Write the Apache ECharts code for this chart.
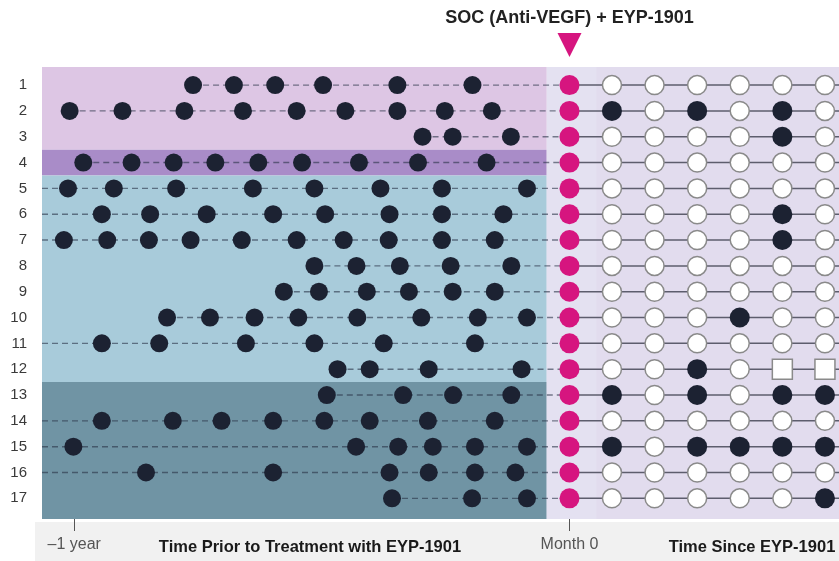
<!DOCTYPE html>
<html>
<head>
<meta charset="utf-8">
<script src="https://cdn.jsdelivr.net/npm/echarts@6/dist/echarts.min.js"></script>
<style>
  html, body { margin: 0; padding: 0; background: #fff; }
  #chart { width: 839px; height: 561px; }
</style>
</head>
<body>
<div id="chart"></div>
<script>
// ---------------- DATA ----------------
// Patient rows (top to bottom)
const rowLabels = ['1','2','3','4','5','6','7','8','9','10','11','12','13','14','15','16','17'];

// Anti-VEGF injections before EYP-1901 (months relative to Month 0)
const preInjections = [
  [-9.12, -8.13, -7.13, -5.97, -4.17, -2.35],
  [-12.11, -10.83, -9.33, -7.91, -6.61, -5.43, -4.17, -3.02, -1.88],
  [-3.56, -2.83, -1.42],
  [-11.78, -10.61, -9.59, -8.58, -7.54, -6.48, -5.10, -3.67, -2.01],
  [-12.15, -11.04, -9.53, -7.67, -6.18, -4.58, -3.09, -1.03],
  [-11.33, -10.16, -8.79, -7.18, -5.92, -4.36, -3.09, -1.60],
  [-12.25, -11.20, -10.19, -9.18, -7.94, -6.61, -5.47, -4.38, -3.09, -1.81],
  [-6.18, -5.16, -4.11, -2.88, -1.41],
  [-6.92, -6.07, -4.91, -3.89, -2.83, -1.81],
  [-9.75, -8.71, -7.63, -6.57, -5.14, -3.59, -2.22, -1.03],
  [-11.33, -9.94, -7.84, -6.18, -4.50, -2.29],
  [-5.62, -4.84, -3.41, -1.16],
  [-5.88, -4.03, -2.82, -1.41],
  [-11.33, -9.61, -8.43, -7.18, -5.94, -4.84, -3.43, -1.81],
  [-12.02, -5.17, -4.15, -3.31, -2.29, -1.03],
  [-10.26, -7.18, -4.36, -3.41, -2.29, -1.31],
  [-4.30, -2.36, -1.03]
];

// Rows whose injection history continues before the window shown
const historyBefore = [false, false, false, false, true, true, true, false, false, false, true, false, false, true, true, true, false];

// Visits after EYP-1901 (Month 0 = treatment)
const postVisits = [1, 2, 3, 4, 5, 6];
// Status per visit: F = supplemental injection (filled), O = no injection (open), S = square marker
const postStatus = [
  'OOOOOO', 'FOFOFO', 'OOOOFO', 'OOOOOO', 'OOOOOO', 'OOOOFO', 'OOOOFO', 'OOOOOO', 'OOOOOO',
  'OOOFOO', 'OOOOOO', 'OOFOSS', 'FOFOFF', 'OOOOOO', 'FOFFFF', 'OOOOOO', 'OOOOOF'
];

// Row groups (first row, last row)
const groupRows = [[1, 3], [4, 4], [5, 12], [13, 17]];

// Tick labels on the time axis
const xTickValues = [-12, 0];
const xTickLabels = ['\u20131 year', 'Month 0'];

// Text
const titleText = 'SOC (Anti-VEGF) + EYP-1901';
const preAxisTitle = 'Time Prior to Treatment with EYP-1901';
const postAxisTitle = 'Time Since EYP-1901';

// ---------------- LAYOUT / STYLE ----------------
const FONT = "'Liberation Sans', Arial, sans-serif";
const Y_MIN = 0.3, Y_MAX = 17.8;
const X0_MIN = -12.78, X0_MAX = 6.53;   // months axis
const X1_MIN = -12.38, X1_MAX = 6.33;   // visits axis
const PRE_END = -0.55;
const STRIP_END = 0.65;
const groupColors = ['#ddc6e4', '#a98cc8', '#a8cbda', '#7094a4'];
const postBg = '#e2dcee';
const stripBg = '#e4e1f1';
const dotColor = '#1c2232';
const magenta = '#d6157f';

const markAreaData = groupRows.map((g, i) => [
  { xAxis: X0_MIN, yAxis: i === 0 ? Y_MIN : g[0] - 0.5, itemStyle: { color: groupColors[i] } },
  { xAxis: PRE_END, yAxis: i === groupRows.length - 1 ? Y_MAX : g[1] + 0.5 }
]);
markAreaData.push([
  { xAxis: PRE_END, yAxis: Y_MIN, itemStyle: { color: postBg } },
  { xAxis: X0_MAX, yAxis: Y_MAX }
]);
markAreaData.push([
  { xAxis: PRE_END, yAxis: Y_MIN, itemStyle: { color: stripBg } },
  { xAxis: STRIP_END, yAxis: Y_MAX }
]);

const series = [];
series.push({
  type: 'line', xAxisIndex: 0, yAxisIndex: 0, data: [], silent: true,
  markArea: { silent: true, data: markAreaData, label: { show: false } }
});

// dashed pre-treatment lines
rowLabels.forEach((lab, i) => {
  const row = i + 1;
  const pts = [];
  if (historyBefore[i]) pts.push([X0_MIN, row]);
  preInjections[i].forEach(v => pts.push([v, row]));
  pts.push([0, row]);
  series.push({
    type: 'line', xAxisIndex: 0, yAxisIndex: 0, data: pts, symbol: 'none', silent: true, z: 3,
    lineStyle: { color: 'rgba(40,50,70,0.6)', width: 1.4, type: [6, 4] }
  });
});

// solid post-treatment lines
rowLabels.forEach((lab, i) => {
  const row = i + 1;
  const pts = [[0, row]];
  postVisits.forEach(v => pts.push([v, row]));
  pts.push([X1_MAX, row]);
  series.push({
    type: 'line', xAxisIndex: 1, yAxisIndex: 0, data: pts, symbol: 'none', silent: true, z: 3,
    lineStyle: { color: '#5d5d6d', width: 1.5 }
  });
});

// pre-treatment injections
const preDots = [];
preInjections.forEach((arr, i) => arr.forEach(v => preDots.push([v, i + 1])));
series.push({
  type: 'scatter', xAxisIndex: 0, yAxisIndex: 0, data: preDots, symbolSize: 18, z: 5,
  itemStyle: { color: dotColor, opacity: 1 }
});

// Month 0 (EYP-1901)
series.push({
  type: 'scatter', xAxisIndex: 0, yAxisIndex: 0,
  data: rowLabels.map((l, i) => [0, i + 1]), symbolSize: 20, z: 5,
  itemStyle: { color: magenta, opacity: 1 }
});

// post-treatment visits
const postFilled = [], postOpen = [], postSquare = [];
postStatus.forEach((s, i) => {
  postVisits.forEach((v, j) => {
    const c = s[j];
    if (c === 'F') postFilled.push([v, i + 1]);
    else if (c === 'S') postSquare.push([v, i + 1]);
    else postOpen.push([v, i + 1]);
  });
});
series.push({
  type: 'scatter', xAxisIndex: 1, yAxisIndex: 0, data: postOpen, symbolSize: 19, z: 5,
  itemStyle: { color: '#ffffff', borderColor: '#8a8a8a', borderWidth: 1.5, opacity: 1 }
});
series.push({
  type: 'scatter', xAxisIndex: 1, yAxisIndex: 0, data: postFilled, symbolSize: 20, z: 5,
  itemStyle: { color: dotColor, opacity: 1 }
});
series.push({
  type: 'scatter', xAxisIndex: 1, yAxisIndex: 0, data: postSquare, symbol: 'rect', symbolSize: 20, z: 5,
  itemStyle: { color: '#ffffff', borderColor: '#8a8a8a', borderWidth: 1.5, opacity: 1 }
});

const option = {
  animation: false,
  backgroundColor: '#ffffff',
  textStyle: { fontFamily: FONT },
  grid: { left: 42, right: 0, top: 67, bottom: 42, containLabel: false },
  xAxis: [
    {
      type: 'value', gridIndex: 0, position: 'bottom', min: X0_MIN, max: X0_MAX,
      axisLine: { show: false }, splitLine: { show: false },
      axisTick: { show: true, customValues: xTickValues, length: 12, lineStyle: { color: '#555', width: 1 } },
      axisLabel: {
        show: true, customValues: xTickValues, margin: 18, color: '#555', fontSize: 16, fontFamily: FONT,
        formatter: v => xTickLabels[xTickValues.indexOf(v)]
      }
    },
    {
      type: 'value', gridIndex: 0, position: 'top', min: X1_MIN, max: X1_MAX, show: false
    }
  ],
  yAxis: {
    type: 'value', inverse: true, min: Y_MIN, max: Y_MAX,
    axisLine: { show: false }, axisTick: { show: false }, splitLine: { show: false },
    axisLabel: {
      show: true, customValues: rowLabels.map((l, i) => i + 1), margin: 15,
      color: '#3a3a3a', fontSize: 15, fontFamily: FONT,
      formatter: v => rowLabels[v - 1]
    }
  },
  series: series
};

const chart = echarts.init(document.getElementById('chart'), null, { renderer: 'canvas' });
chart.setOption(option);

const cx = chart.convertToPixel({ xAxisIndex: 0, yAxisIndex: 0 }, [0, Y_MIN]);
const pLeft = chart.convertToPixel({ xAxisIndex: 0, yAxisIndex: 0 }, [X0_MIN, Y_MAX]);
const mx = cx[0], gridTop = cx[1], gridBottom = pLeft[1];
chart.setOption({
  graphic: [
    { type: 'rect', z: -1, shape: { x: 35, y: gridBottom + 3, width: 839 - 35, height: 561 - gridBottom - 3 },
      style: { fill: '#f1f1f1' }, silent: true },
    { type: 'text', z: 100, x: mx, y: 18,
      style: { text: titleText, font: 'bold 18px ' + FONT, fill: '#222', align: 'center', verticalAlign: 'middle' } },
    { type: 'polygon', z: 100,
      shape: { points: [[mx - 12, gridTop - 34], [mx + 12, gridTop - 34], [mx, gridTop - 10]] },
      style: { fill: magenta } },
    { type: 'text', z: 100, x: 310, y: gridBottom + 28,
      style: { text: preAxisTitle, font: 'bold 16.5px ' + FONT, fill: '#1a1a1a', align: 'center', verticalAlign: 'middle' } },
    { type: 'text', z: 100, x: 752, y: gridBottom + 28,
      style: { text: postAxisTitle, font: 'bold 16.5px ' + FONT, fill: '#1a1a1a', align: 'center', verticalAlign: 'middle' } }
  ]
});
</script>
</body>
</html>
